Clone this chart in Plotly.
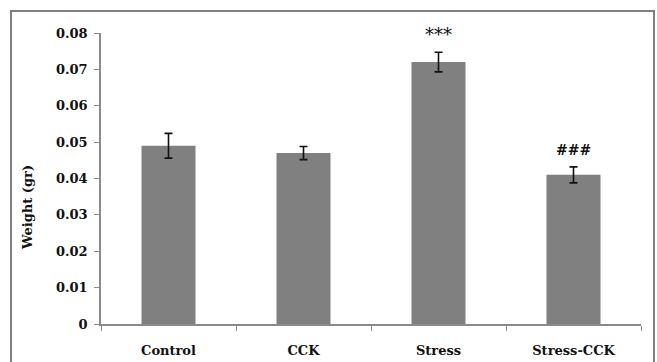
import plotly.graph_objects as go

categories = ["Control", "CCK", "Stress", "Stress-CCK"]
weights = [0.049, 0.047, 0.072, 0.041]
errors = [0.0034, 0.0018, 0.0027, 0.0022]
marks = ["", "", "***", "###"]
mark_y = [None, None, 0.0796, 0.0478]
y_ticks = [0, 0.01, 0.02, 0.03, 0.04, 0.05, 0.06, 0.07, 0.08]
y_tick_text = ["0", "0.01", "0.02", "0.03", "0.04", "0.05", "0.06", "0.07", "0.08"]

W, H = 657, 362
ml, mr, mt, mb = 101, 16, 33, 38
pw = W - ml - mr
ph = H - mt - mb

font = dict(family="DejaVu Serif", size=13, color="#111111")

fig = go.Figure()
fig.add_trace(go.Bar(
    x=categories, y=weights,
    marker=dict(color="#808080", line=dict(width=0)),
    error_y=dict(type="data", array=errors, visible=True,
                 color="#111111", thickness=1.6, width=4),
    width=0.4,
))

annotations = []
for c, m, my in zip(categories, marks, mark_y):
    if m:
        bold = m == "###"
        annotations.append(dict(
            x=c, y=my, xref="x", yref="y", text=("<b>%s</b>" % m) if bold else m,
            showarrow=False, yanchor="middle", xanchor="center",
            font=dict(family="DejaVu Serif", size=14 if bold else 18, color="#111111"),
        ))

def px_x(p):
    return (p - ml) / pw

def px_y(p):
    return (H - mb - p) / ph

annotations.append(dict(
    x=px_x(27), y=px_y(208), xref="paper", yref="paper",
    text="<b>Weight (gr)</b>", textangle=-90, showarrow=False,
    xanchor="center", yanchor="middle", font=font,
))

fig.update_layout(
    width=W, height=H,
    margin=dict(l=ml, r=mr, t=mt, b=mb, pad=0, autoexpand=False),
    paper_bgcolor="white", plot_bgcolor="white",
    showlegend=False,
    bargap=0.6,
    annotations=annotations,
    shapes=[dict(
        type="rect", xref="paper", yref="paper",
        x0=px_x(11), x1=px_x(654), y0=px_y(370), y1=px_y(11),
        line=dict(color="#7f7f7f", width=2), fillcolor="rgba(0,0,0,0)",
        layer="below",
    )],
    xaxis=dict(
        showgrid=False, zeroline=False, automargin=False,
        showline=True, linecolor="#8a8a8a", linewidth=1.5,
        ticks="outside", tickson="boundaries", ticklen=5, tickcolor="#8a8a8a",
        tickfont=font, tickprefix="<b>", ticksuffix="</b>",
        ticklabelstandoff=14,
    ),
    yaxis=dict(
        range=[0, 0.08], showgrid=False, zeroline=False, automargin=False,
        showline=True, linecolor="#8a8a8a", linewidth=1.5,
        ticks="outside", ticklen=5, tickcolor="#8a8a8a",
        tickvals=y_ticks, ticktext=["<b>%s</b>" % t for t in y_tick_text],
        tickfont=font, ticklabelstandoff=4,
    ),
)

fig.write_html(
    "out.html",
    config={"displayModeBar": False},
    post_script="document.body.style.margin='0';document.body.style.overflow='hidden';",
)
